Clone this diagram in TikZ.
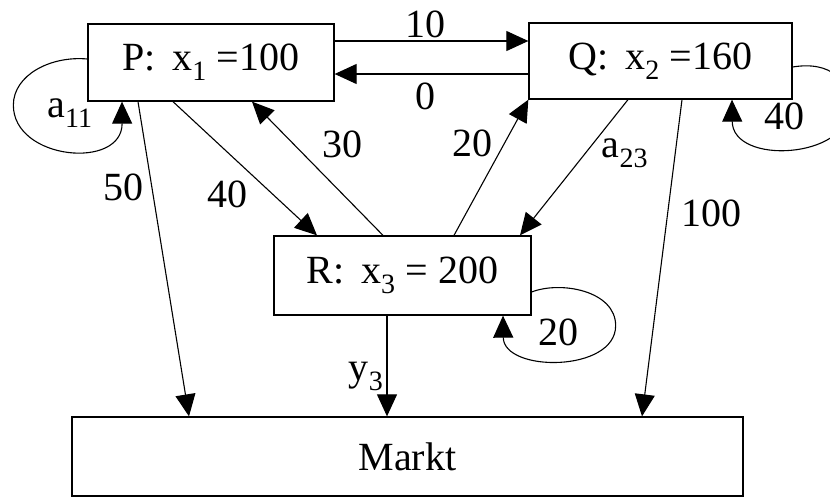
\documentclass[tikz,border=0pt]{standalone}
\usepackage{fontspec}
\setmainfont{Liberation Serif}
\usetikzlibrary{arrows.meta,calc}
\tikzset{
  box/.style={draw, line width=1.3pt, inner sep=0pt},
  flow/.style={-{Triangle[length=22pt,width=20pt]}, line width=1.1pt}
}

\begin{document}
\begin{tikzpicture}[x=1pt, y=-1pt, font=\fontsize{40}{46}\selectfont]
    \clip (0,0) rectangle (830,498);
    % sectors and market
    \node[box, minimum width=246pt, minimum height=77pt] (P) at (211,62.5) {P:\, x\textsubscript{1} =100\hspace{10pt}};
    \node[box, minimum width=263pt, minimum height=76pt] (Q) at (660.5,61) {Q:\, x\textsubscript{2} =160\hspace{14pt}};
    \node[box, minimum width=257pt, minimum height=79pt] (R) at (402.5,275.5) {R:\, x\textsubscript{3} = 200\hspace{10pt}};
    \node[box, minimum width=671pt, minimum height=79pt] (M) at (407.5,456.5) {Markt};
    % flows between sectors
    \draw[flow] ([yshift=21.5pt]P.east) -- ([yshift=21.5pt]P.east -| Q.west);
    \draw[flow] ([yshift=-11.5pt]P.east -| Q.west) -- ([yshift=-11.5pt]P.east);
    \draw[flow] ([xshift=-38pt]P.south) -- ([xshift=-85.5pt]R.north);
    \draw[flow] ([xshift=-19.5pt]R.north) -- ([xshift=41pt]P.south);
    \draw[flow] ([xshift=51.5pt]R.north) -- (Q.south west);
    \draw[flow] ([xshift=-32.5pt]Q.south) -- ([xshift=117.5pt]R.north);
    % deliveries to the market
    \draw[flow] ([xshift=-73pt]P.south) -- ([xshift=-218.5pt]M.north);
    \draw[flow] ([xshift=21.5pt]Q.south) -- ([xshift=234.5pt]M.north);
    \draw[flow] ([xshift=-15.5pt]R.south) -- ([xshift=-15.5pt]R.south |- M.north);
    % own consumption
    \draw[flow] ([yshift=3.5pt]P.west) .. controls ($(P.south west)+(-37,-46)$) and ($(P.south west)+(-74,-26.5)$)
        .. ($(P.south west)+(-74,3.5)$)
        .. controls ($(P.south west)+(-74,58.5)$) and ($(P.south west)+(35,68.5)$) .. ([xshift=-89pt]P.south);
    \draw[flow] ([yshift=-6pt]Q.east) .. controls ($(Q.south east)+(38,-39)$) and ($(Q.south east)+(58,-19)$)
        .. ($(Q.south east)+(56,9)$)
        .. controls ($(Q.south east)+(56,59)$) and ($(Q.south east)+(-60,66)$) .. ([xshift=71.5pt]Q.south);
    \draw[flow] ([yshift=-16.5pt]R.east) .. controls ($(R.south east)+(29,-35)$) and ($(R.south east)+(84,-25)$)
        .. ($(R.south east)+(84,10)$)
        .. controls ($(R.south east)+(84,57)$) and ($(R.south east)+(-28,57)$) .. ([xshift=100.5pt]R.south);
    % labels
    \node (l10) at (425,24) {10};
    \node (l0) at (425,96) {0};
    \node (la11) at (70,113) {a\textsubscript{11}};
    \node (l50) at (123,187) {50};
    \node (l40) at (227,194) {40};
    \node (l30) at (342,144) {30};
    \node (l20) at (472,143) {20};
    \node (la23) at (625,153) {a\textsubscript{23}};
    \node (l100) at (711,213) {100};
    \node (lq40) at (784,116) {40};
    \node (lr20) at (558,332) {20};
    \node (ly3) at (366,376) {y\textsubscript{3}};
\end{tikzpicture}
\end{document}
